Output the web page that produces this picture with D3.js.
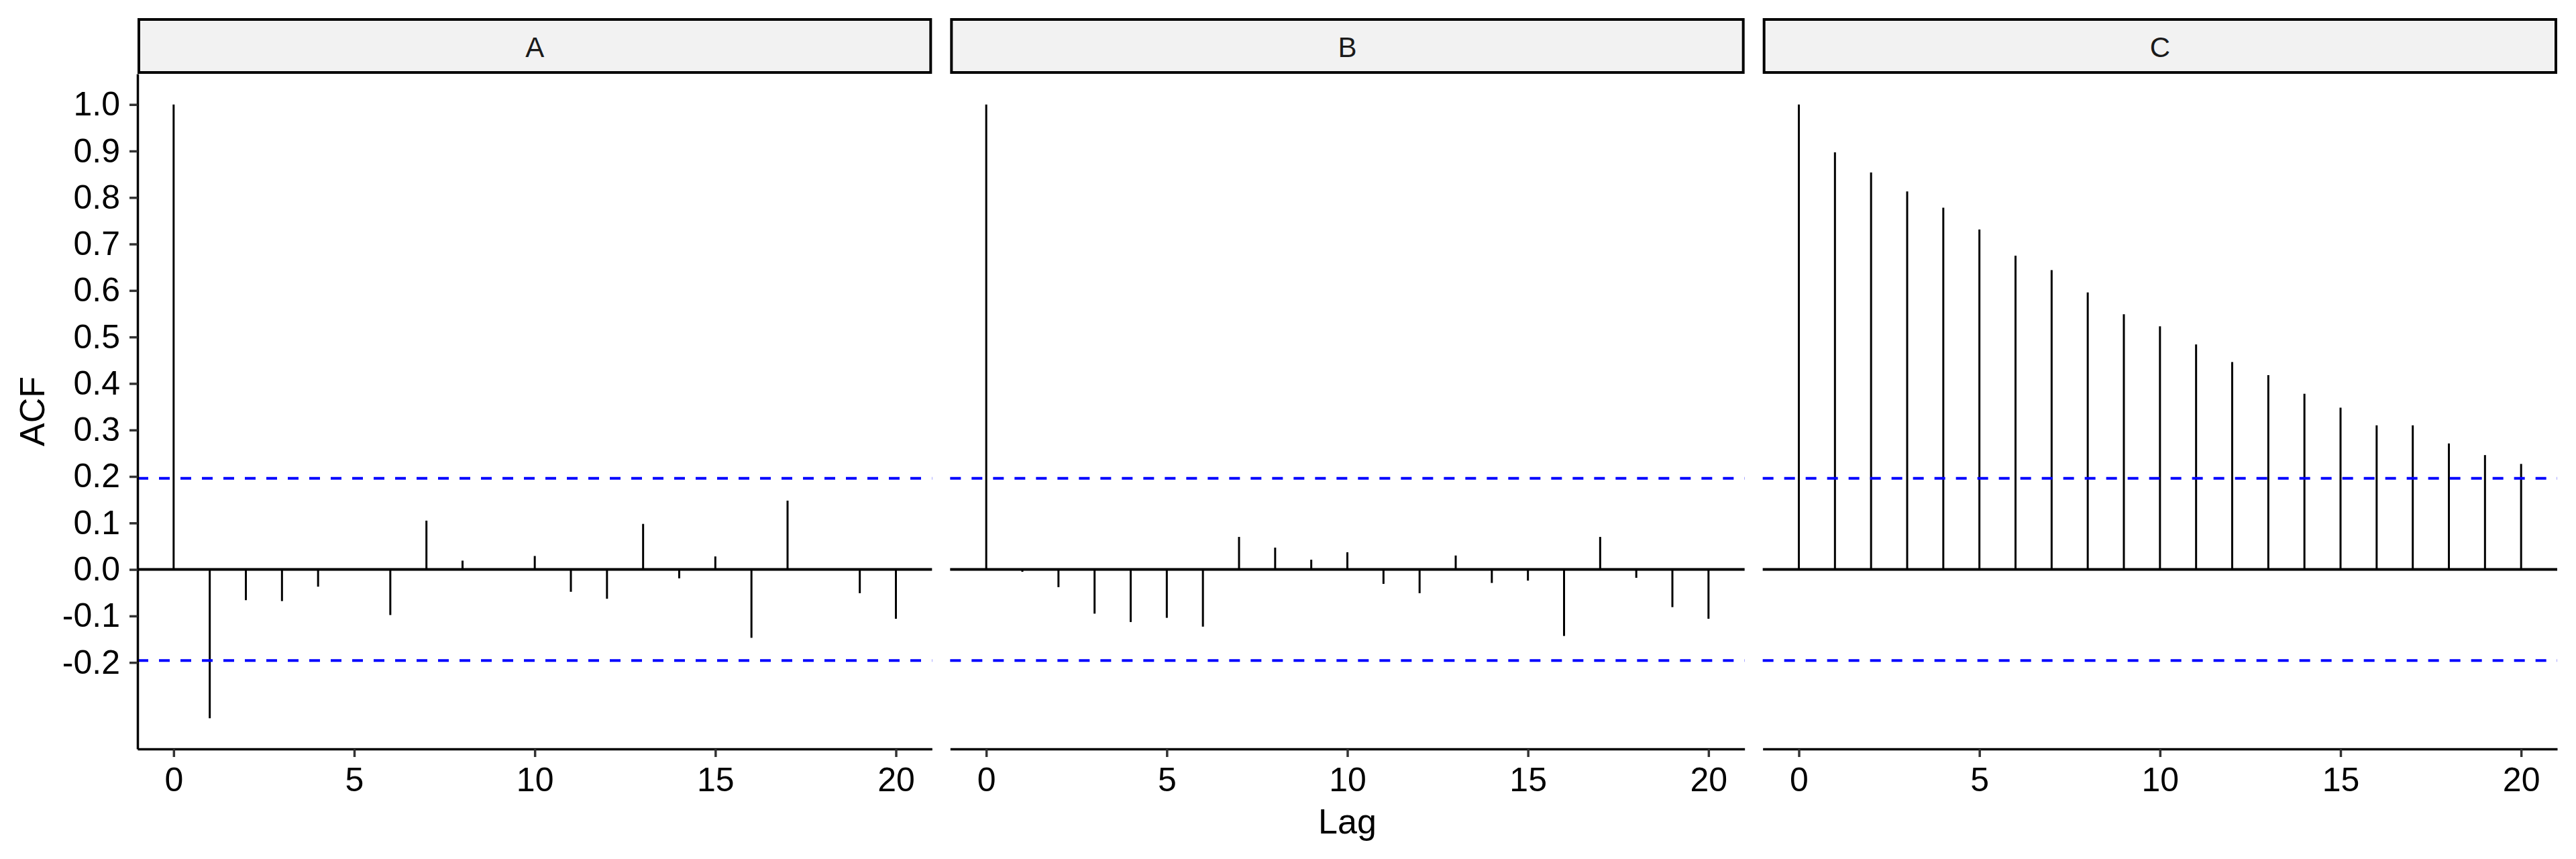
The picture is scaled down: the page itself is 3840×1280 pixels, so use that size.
<!DOCTYPE html>
<html>
<head>
<meta charset="utf-8">
<script src="https://cdn.jsdelivr.net/npm/d3@7"></script>
<style>
    html, body { margin: 0; padding: 0; background: #fff; }
    svg { display: block; font-family: "Liberation Sans", Arial, sans-serif; }
</style>
</head>
<body>
<svg id="acf-chart"></svg>
<script>
'use strict'

// facet names and lags
var panelNames = ["A", "B", "C"];
var lags = [0, 1, 2, 3, 4, 5, 6, 7, 8, 9, 10, 11, 12, 13, 14, 15, 16, 17, 18, 19, 20];

// ACF values
var acfA = [1.0, -0.320, -0.066, -0.068, -0.037, 0.002, -0.098, 0.105, 0.019, -0.002, 0.029,
    -0.048, -0.063, 0.098, -0.019, 0.028, -0.147, 0.148, 0.001, -0.051, -0.106];
var acfB = [1.0, -0.005, -0.038, -0.095, -0.113, -0.104, -0.123, 0.070, 0.047, 0.021, 0.037,
    -0.031, -0.051, 0.030, -0.029, -0.024, -0.143, 0.070, -0.018, -0.081, -0.106];
var acfC = [1.0, 0.897, 0.854, 0.813, 0.778, 0.731, 0.675, 0.644, 0.596, 0.549, 0.523,
    0.484, 0.446, 0.418, 0.378, 0.348, 0.310, 0.310, 0.271, 0.246, 0.227];

// significance bound (1.96 / sqrt(n))
var ciBound = 0.196;

var yTicks = [-0.2, -0.1, 0.0, 0.1, 0.2, 0.3, 0.4, 0.5, 0.6, 0.7, 0.8, 0.9, 1.0];
var xTicks = [0, 5, 10, 15, 20];

var width = 3840,
    height = 1280,
    plotLeft = 205,
    plotRight = 3812,
    panelGap = 27,
    panelTop = 110,
    panelBottom = 1116,
    stripTop = 27;

var panelWidth = (plotRight - plotLeft - 2 * panelGap) / 3;

var svg = d3.select("#acf-chart")
    .attr("width", width)
    .attr("height", height);

// y domain like ggplot: data range plus 5% each side
var allValues = acfA.concat(acfB, acfC);
var yMin = d3.min(allValues), yMax = d3.max(allValues);
var yPad = (yMax - yMin) * 0.05;

var y = d3.scaleLinear()
    .domain([yMin - yPad, yMax + yPad])
    .range([panelBottom, panelTop]);

var series = [acfA, acfB, acfC];

panelNames.forEach(function (name, i) {
    var x0 = plotLeft + i * (panelWidth + panelGap);
    var x = d3.scaleLinear()
        .domain([-1, 21])
        .range([x0, x0 + panelWidth]);

    var g = svg.append("g").attr("class", "panel panel-" + name);

    // strip
    g.append("rect")
        .attr("x", x0 + 2)
        .attr("y", stripTop + 2)
        .attr("width", panelWidth - 4)
        .attr("height", panelTop - stripTop - 4)
        .attr("fill", "#f2f2f2")
        .attr("stroke", "#000")
        .attr("stroke-width", 4);

    g.append("text")
        .attr("x", x0 + panelWidth / 2)
        .attr("y", 85)
        .attr("text-anchor", "middle")
        .attr("font-size", 42)
        .attr("fill", "#1a1a1a")
        .text(name);

    // zero line
    g.append("line")
        .attr("x1", x0)
        .attr("x2", x0 + panelWidth)
        .attr("y1", y(0))
        .attr("y2", y(0))
        .attr("stroke", "#000")
        .attr("stroke-width", 4);

    // stems
    g.append("g")
        .selectAll("line")
        .data(lags)
        .enter().append("line")
        .attr("x1", function (d) { return x(d); })
        .attr("x2", function (d) { return x(d); })
        .attr("y1", y(0))
        .attr("y2", function (d, j) { return y(series[i][j]); })
        .attr("stroke", "#000")
        .attr("stroke-width", 3);

    // confidence bounds
    g.append("g")
        .selectAll("line")
        .data([ciBound, -ciBound])
        .enter().append("line")
        .attr("x1", x0)
        .attr("x2", x0 + panelWidth)
        .attr("y1", function (d) { return y(d); })
        .attr("y2", function (d) { return y(d); })
        .attr("stroke", "#0000ff")
        .attr("stroke-width", 4)
        .attr("stroke-dasharray", "16,16");

    // x axis
    var xAxis = g.append("g")
        .attr("transform", "translate(0," + panelBottom + ")")
        .call(d3.axisBottom(x)
            .tickValues(xTicks)
            .tickSize(12)
            .tickSizeOuter(0)
            .tickPadding(15));

    styleAxis(xAxis);

    // y axis only on the first panel
    if (i === 0) {
        var yAxis = g.append("g")
            .attr("transform", "translate(" + x0 + ",0)")
            .call(d3.axisLeft(y)
                .tickValues(yTicks)
                .tickFormat(function (d) { return d.toFixed(1); })
                .tickSize(12)
                .tickSizeOuter(0)
                .tickPadding(14));

        styleAxis(yAxis);
    }
});

function styleAxis(axis) {
    axis.select(".domain")
        .attr("stroke", "#000")
        .attr("stroke-width", 3.5);
    axis.selectAll(".tick line")
        .attr("stroke", "#333")
        .attr("stroke-width", 3.5);
    axis.selectAll(".tick text")
        .attr("fill", "#000")
        .attr("font-size", 50)
        .attr("font-family", "Liberation Sans, Arial, sans-serif");
}

// axis titles
svg.append("text")
    .attr("x", (plotLeft + plotRight) / 2)
    .attr("y", 1242)
    .attr("text-anchor", "middle")
    .attr("font-size", 52)
    .attr("fill", "#000")
    .text("Lag");

svg.append("text")
    .attr("transform", "translate(66," + ((panelTop + panelBottom) / 2) + ") rotate(-90)")
    .attr("text-anchor", "middle")
    .attr("font-size", 52)
    .attr("fill", "#000")
    .text("ACF");
</script>
</body>
</html>
